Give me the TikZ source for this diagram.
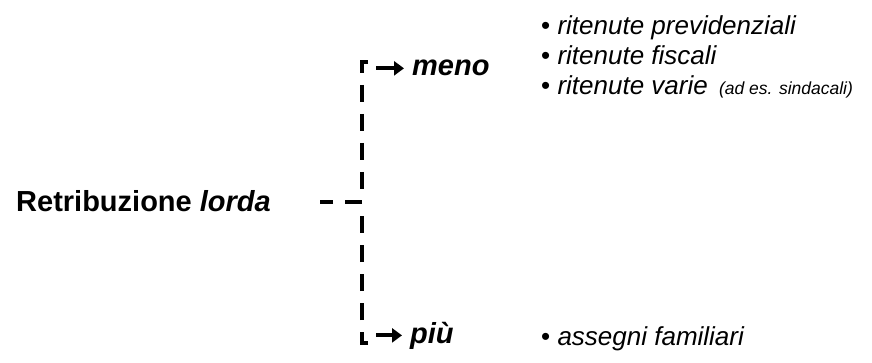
\documentclass[tikz,border=0pt]{standalone}
\usepackage{fontspec}
\setmainfont{Liberation Sans}
\usetikzlibrary{arrows.meta}
\begin{document}
\begin{tikzpicture}[x=1pt,y=-1pt,
  lbl/.style={inner sep=0pt,anchor=base west,font=\fontsize{26}{30}\selectfont},
  big/.style={inner sep=0pt,anchor=base west,font=\fontsize{29}{33}\selectfont\bfseries},
  brk/.style={line width=3.8pt,dash pattern=on 17pt off 12pt,line cap=butt,line join=miter},
  arr/.style={line width=3.8pt,-{Triangle[length=10pt,width=14pt]},shorten >=8pt}]
\useasboundingbox (0,0) rectangle (872,363);
% left label
\node[big] (ret) at (16,212) {Retribuzione \textit{lorda}};
% bracket
\coordinate (top) at (362,62);
\coordinate (mid) at (362,202);
\coordinate (bot) at (362,343);
\coordinate (tip) at (320,202);
\draw[brk] ([xshift=6pt]top) -- (top) -- (362,189);
\draw[brk] ([xshift=6pt]bot) -- (bot) -- (362,216);
\draw[brk] (mid) -- (tip);
% branch labels
\node[big] (meno) at (412,76) {\textit{meno}};
\node[big] (piu) at (410,343) {\textit{più}};
\path (meno.west) ++(-36,0) coordinate (a1);
\path (piu.west) ++(-34,0) coordinate (a2);
\draw[arr] (a1) -- (meno.west);
\draw[arr] (a2) -- (piu.west);
% items
\node[lbl] (r1) at (541,35) {\textbullet\ \textit{ritenute previdenziali}};
\node[lbl] (r2) at (541,65) {\textbullet\ \textit{ritenute fiscali}};
\node[lbl] (r3) at (541,95) {\textbullet\ \textit{ritenute varie}\hspace{4pt} {\fontsize{17.5}{20}\selectfont\textit{(ad es. sindacali)}}};
\node[lbl] (a3) at (541,345) {\textbullet\ \textit{assegni familiari}};
\end{tikzpicture}
\end{document}
